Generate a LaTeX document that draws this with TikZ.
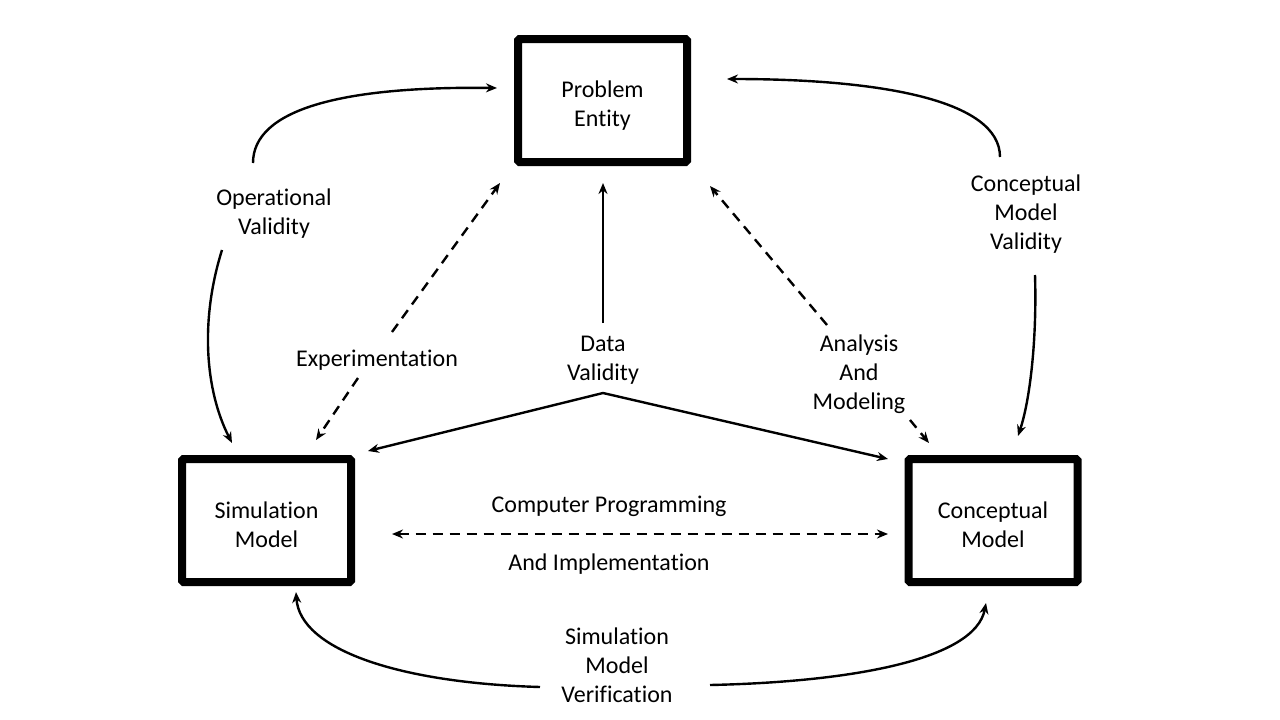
\documentclass[tikz,border=0pt]{standalone}
\usepackage{fontspec}
\setmainfont[Ligatures=NoCommon]{Carlito}
\usetikzlibrary{arrows.meta}
\newcommand{\boxstrut}{\rule{0pt}{26pt}}
\begin{document}
\begin{tikzpicture}[x=1pt,y=-1pt,
  box/.style={draw,line width=8pt,minimum width=169pt,minimum height=123pt,rounded corners=1.5pt,align=center,font=\fontsize{24}{29}\selectfont},
  lbl/.style={align=center,font=\fontsize{24}{29}\selectfont,inner sep=2pt},
  conn/.style={line width=2.4pt,-{Stealth[length=11pt,width=9pt]}},
  dconn/.style={conn,dash pattern=on 10pt off 7pt}
]
\useasboundingbox[fill=white] (0,0) rectangle (1280,720);

% boxes
\node[box] (pe) at (602.5,100.5) {\boxstrut Problem\\Entity};
\node[box] (sm) at (266.5,520.5) {\boxstrut Simulation\\Model};
\node[box] (cm) at (993,520.5) {\boxstrut Conceptual\\Model};

% labels
\node[lbl] (ov) at (274,214) {Operational\\Validity};
\node[lbl] (cmv) at (1026,214) {Conceptual\\Model\\Validity};
\node[lbl] (exp) at (377,360) {Experimentation};
\node[lbl] (dv) at (603,360) {Data\\Validity};
\node[lbl] (am) at (859,374) {Analysis\\And\\Modeling};
\node[lbl] (cp) at (609,506) {Computer Programming};
\node[lbl] (ai) at (609,564) {And Implementation};
\node[lbl] (smv) at (617,665) {Simulation\\Model\\Verification};

% free ends
\coordinate (ovT) at (253,163);
\coordinate (ovB) at (222,250);
\coordinate (peL) at (497,88);
\coordinate (smT) at (232,443);
\coordinate (cmvT) at (1000,157);
\coordinate (peR) at (727,79);
\coordinate (cmvB) at (1035,275);
\coordinate (cmT) at (1018,436);
\coordinate (expA) at (358,378);
\coordinate (expB) at (392,332);
\coordinate (smE) at (316,440);
\coordinate (peE) at (500,183);
\coordinate (dvT) at (603,323);
\coordinate (peB) at (603,183);
\coordinate (dvB) at (603,393);
\coordinate (smD) at (368,451);
\coordinate (cmD) at (888,459);
\coordinate (amT) at (827,325);
\coordinate (peA) at (710,186);
\coordinate (amB) at (910,420);
\coordinate (cmA) at (929,443);
\coordinate (smC) at (392,534);
\coordinate (cmC) at (888,534);
\coordinate (smvL) at (540,687);
\coordinate (smV) at (296,592);
\coordinate (smvR) at (710,685);
\coordinate (cmV) at (986,603);

% operational validity
\draw[conn] (ovT) .. controls (253,110) and (340,86) .. (peL);
\draw[conn] (ovB) .. controls (200,320) and (205,390) .. (smT);
% conceptual model validity
\draw[conn] (cmvT) .. controls (1000,100) and (880,79) .. (peR);
\draw[conn] (cmvB) .. controls (1037,340) and (1030,400) .. (cmT);
% experimentation
\draw[dconn] (expA) -- (smE);
\draw[dconn] (expB) -- (peE);
% data validity
\draw[conn] (dvT) -- (peB);
\draw[conn] (dvB) -- (smD);
\draw[conn] (dvB) -- (cmD);
% analysis and modeling
\draw[dconn] (amT) -- (peA);
\draw[dconn] (amB) -- (cmA);
% computer programming
\draw[dconn,{Stealth[length=11pt,width=9pt]}-{Stealth[length=11pt,width=9pt]}] (smC) -- (cmC);
% verification
\draw[conn] (smvL) .. controls (400,683) and (300,650) .. (smV);
\draw[conn] (smvR) .. controls (850,682) and (975,660) .. (cmV);
\end{tikzpicture}
\end{document}
